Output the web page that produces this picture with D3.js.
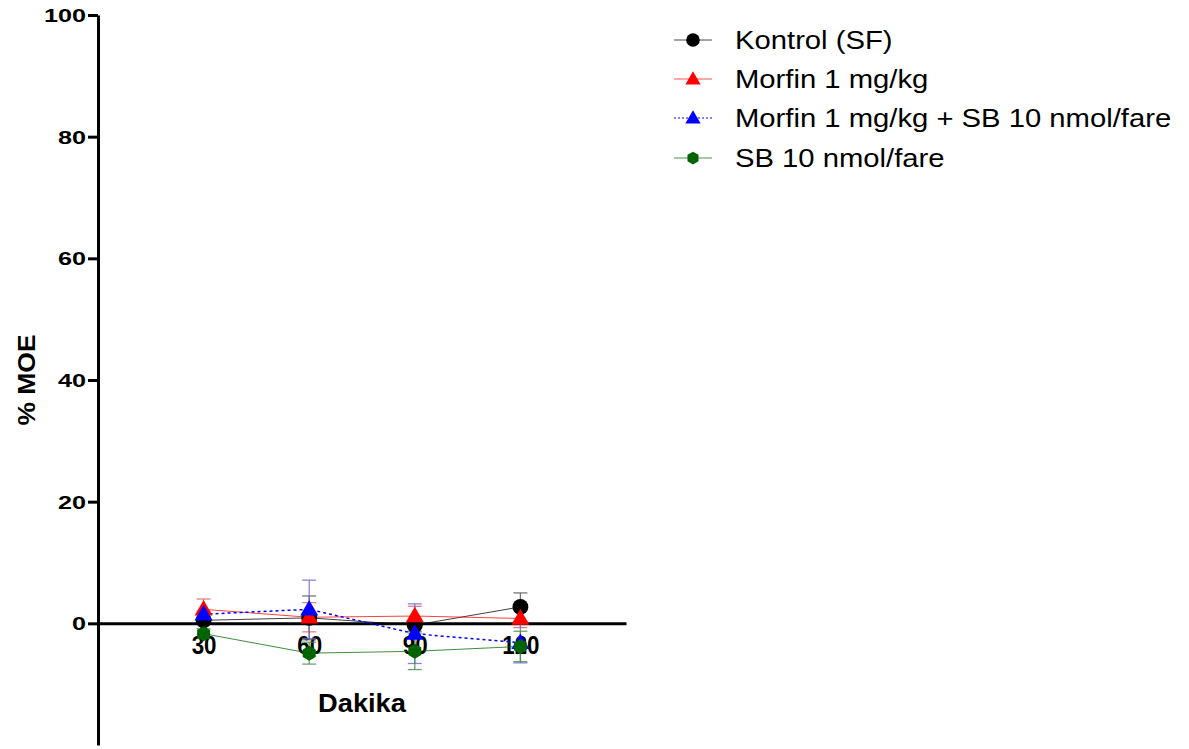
<!DOCTYPE html>
<html>
<head>
<meta charset="utf-8">
<script src="https://cdn.jsdelivr.net/npm/d3@7"></script>
<style>
  body { margin: 0; background: #fff; }
  svg { display: block; }
  text { font-family: "Liberation Sans", Arial, sans-serif; }
</style>
</head>
<body>
<svg id="chart" width="1189" height="749"></svg>
<script>
// ---- data ----
const minutes = [30, 60, 90, 120];
const xTickLabels = ["30", "60", "90", "120"];
const yTicks = [0, 20, 40, 60, 80, 100];

const seriesNames = ["Kontrol (SF)", "Morfin 1 mg/kg", "Morfin 1 mg/kg + SB 10 nmol/fare", "SB 10 nmol/fare"];
const kontrolMean = [0.5, 0.9, -0.3, 2.7];
const kontrolSem  = [0.5, 3.6, 1.0, 2.3];
const morfinMean  = [2.3, 1.0, 1.2, 0.8];
const morfinSem   = [1.7, 2.4, 1.6, 1.5];
const morfinSbMean = [1.5, 2.3, -1.7, -3.2];
const morfinSbSem  = [0.5, 4.8, 4.9, 3.3];
const sbMean = [-1.7, -4.9, -4.6, -3.8];
const sbSem  = [0.8, 1.8, 3.0, 2.5];

const series = [
  {name: seriesNames[0], mean: kontrolMean, sem: kontrolSem, color: "#000000", errColor: "#555555", symbol: d3.symbolCircle, size: 200, dash: null},
  {name: seriesNames[1], mean: morfinMean, sem: morfinSem, color: "#ff0000", errColor: "#e06060", symbol: d3.symbolTriangle, size: 140, dash: null},
  {name: seriesNames[2], mean: morfinSbMean, sem: morfinSbSem, color: "#0000ff", errColor: "#6666cc", symbol: d3.symbolTriangle, size: 140, dash: "3,3"},
  {name: seriesNames[3], mean: sbMean, sem: sbSem, color: "#006400", errColor: "#4a8a4a", symbol: "hex", size: 7.5, dash: null}
];

// ---- scales ----
const svg = d3.select("#chart");
const x = d3.scaleLinear().domain([0, 150]).range([98, 626]);
const y = d3.scaleLinear().domain([-20, 100]).range([745, 15]);

function hexPath(r) {
  const pts = d3.range(6).map(i => {
    const a = Math.PI / 6 + i * Math.PI / 3;
    return [r * Math.cos(a), r * Math.sin(a)];
  });
  return "M" + pts.map(p => p.join(",")).join("L") + "Z";
}
function symPath(s) {
  if (s.symbol === "hex") return hexPath(s.size);
  return d3.symbol().type(s.symbol).size(s.size)();
}

// ---- y axis ----
const yAxis = d3.axisLeft(y).tickValues(yTicks).tickSize(10).tickSizeOuter(0).tickPadding(0);
const gy = svg.append("g").attr("transform", "translate(98,0)").call(yAxis);
gy.select(".domain").attr("stroke", "#000").attr("stroke-width", 3);
gy.selectAll(".tick line").attr("stroke", "#000").attr("stroke-width", 3);
gy.selectAll(".tick text").attr("font-size", 18).attr("font-weight", "bold").attr("fill", "#000")
  .attr("x", 0).attr("dy", "0.36em")
  .attr("transform", "translate(-12,0) scale(1.4,1)")
  .style("font-family", "'Liberation Sans', Arial, sans-serif");

// ---- x axis at y=0 ----
const xAxis = d3.axisBottom(x).tickValues(minutes).tickFormat((d, i) => xTickLabels[i]).tickSize(0).tickSizeOuter(0).tickPadding(0);
const gx = svg.append("g").attr("transform", `translate(0,${y(0)})`).call(xAxis);
gx.select(".domain").attr("stroke", "#000").attr("stroke-width", 3);
gx.selectAll(".tick text").attr("font-size", 26).attr("font-weight", "bold").attr("fill", "#000")
  .attr("y", 0).attr("dy", 0)
  .attr("transform", "translate(0,31) scale(0.86,1)")
  .style("font-family", "'Liberation Sans', Arial, sans-serif");

// ---- axis titles ----
svg.append("text").attr("transform", `translate(35,${y(40)}) rotate(-90) scale(1.15,1)`)
  .attr("text-anchor", "middle").attr("font-size", 23).attr("font-weight", "bold").text("% MOE");
svg.append("text").attr("transform", `translate(${x(75)},712) scale(1.09,1)`)
  .attr("text-anchor", "middle").attr("font-size", 25).attr("font-weight", "bold").text("Dakika");

// ---- series ----
const plot = svg.append("g");
series.forEach(s => {
  const pts = minutes.map((m, i) => ({m, v: s.mean[i], e: s.sem[i]}));
  plot.append("path").datum(pts)
    .attr("fill", "none").attr("stroke", s.color).attr("stroke-width", s.dash ? 1.5 : 1)
    .attr("stroke-opacity", s.dash ? 1 : 0.75)
    .attr("stroke-dasharray", s.dash)
    .attr("d", d3.line().x(d => x(d.m)).y(d => y(d.v)));
  const eg = plot.append("g").attr("stroke", s.errColor).attr("stroke-width", 1.3).attr("stroke-opacity", 0.8);
  pts.forEach(d => {
    eg.append("line").attr("x1", x(d.m)).attr("x2", x(d.m)).attr("y1", y(d.v + d.e)).attr("y2", y(d.v - d.e));
    [d.v + d.e, d.v - d.e].forEach(v => {
      eg.append("line").attr("x1", x(d.m) - 7).attr("x2", x(d.m) + 7).attr("y1", y(v)).attr("y2", y(v));
    });
  });
});
series.forEach(s => {
  const pts = minutes.map((m, i) => ({m, v: s.mean[i]}));
  plot.append("g").selectAll("path").data(pts).join("path")
    .attr("d", symPath(s))
    .attr("transform", d => `translate(${x(d.m)},${y(d.v) + (s.symbol === d3.symbolTriangle ? 1 : 0)})`)
    .attr("fill", s.color);
});

// ---- legend ----
const legend = svg.append("g");
const rowY = [40, 79, 118, 158];
series.forEach((s, i) => {
  const g = legend.append("g").attr("transform", `translate(0,${rowY[i]})`);
  g.append("line").attr("x1", 674).attr("x2", 712).attr("y1", 0).attr("y2", 0)
    .attr("stroke", s.color).attr("stroke-width", 1).attr("stroke-opacity", s.dash ? 1 : 0.7)
    .attr("stroke-dasharray", s.dash ? "2,2" : null);
  g.append("path").attr("d", symPath(s)).attr("fill", s.color)
    .attr("transform", `translate(693,${s.symbol === d3.symbolTriangle ? 1 : 0}) scale(0.85)`);
  g.append("text").attr("transform", "translate(735,0) scale(1.17,1)").attr("dy", "0.36em")
    .attr("font-size", 25).attr("fill", "#000").text(s.name);
});
</script>
</body>
</html>
